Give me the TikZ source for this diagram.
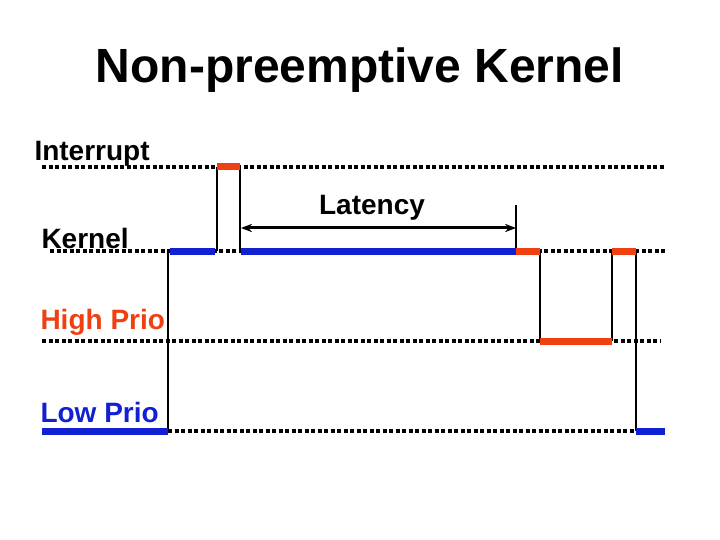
\documentclass[tikz,border=0pt]{standalone}
\usepackage{fontspec}
\setmainfont{Liberation Sans}
\usetikzlibrary{arrows.meta}
\definecolor{hired}{RGB}{238,64,16}
\definecolor{loblue}{RGB}{16,32,210}
\tikzset{
  idle/.style={line width=4pt,line cap=butt,dash pattern=on 4pt off 2.5pt},
  busy/.style={line width=7pt,line cap=butt},
  edge/.style={line width=1.2pt},
  lbl/.style={font=\bfseries\fontsize{28}{32}\selectfont}
}
\begin{document}
\begin{tikzpicture}[x=1pt,y=-1pt]
    \useasboundingbox (0,0) rectangle (720,540);
    % Title
    \node[font=\bfseries\fontsize{48}{52}\selectfont] (title) at (360,70) {Non-preemptive Kernel};

    % Labels
    \node[lbl,anchor=west] (int) at (31,154) {Interrupt};
    \node[lbl,anchor=west] (ker) at (38,238) {Kernel};
    \node[lbl,anchor=west,text=hired] (hi) at (37,322) {High Prio};
    \node[lbl,anchor=west,text=loblue] (lo) at (37,412) {Low Prio};

    % Idle levels
    \draw[idle] (42,167) -- (665,167);
    \draw[idle] (50,251) -- (665,251);
    \draw[idle] (42,341) -- (660,341);
    \draw[idle] (168,431) -- (636,431);

    % Switches
    \draw[edge] (168,251) -- (168,431);
    \draw[edge] (217,167) -- (217,251);
    \draw[edge] (240,167) -- (240,251);
    \draw[edge] (516,205) -- (516,251);
    \draw[edge] (540,251) -- (540,341);
    \draw[edge] (612,251) -- (612,341);
    \draw[edge] (636,251) -- (636,431);

    % Busy segments
    \draw[busy,hired] (217,167) -- (240,167);
    \draw[busy,loblue] (170,251) -- (215,251);
    \draw[busy,loblue] (241,251) -- (516,251);
    \draw[busy,hired] (516,251) -- (540,251);
    \draw[busy,hired] (612,251) -- (636,251);
    \draw[busy,hired] (540,341) -- (612,341);
    \draw[busy,loblue] (42,431) -- (168,431);
    \draw[busy,loblue] (636,431) -- (665,431);

    % Latency
    \draw[{Stealth[length=11pt]}-{Stealth[length=11pt]},line width=3pt] (241,228) -- (516,228);
    \node[lbl] (lat) at (372,208) {Latency};
\end{tikzpicture}
\end{document}
